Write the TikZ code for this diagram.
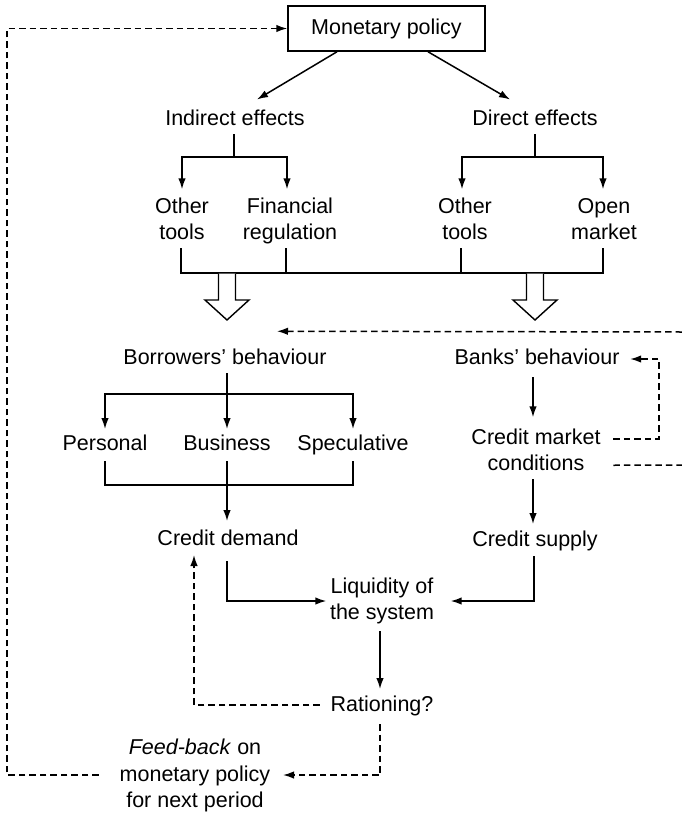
\documentclass[tikz,border=0pt]{standalone}
\usepackage{fontspec}
\setmainfont{Liberation Sans}
\usetikzlibrary{arrows.meta,calc}
\newcommand{\fs}{\fontsize{21.5pt}{26.5pt}\selectfont}
\begin{document}
\begin{tikzpicture}[x=1pt,y=-1pt, line width=1.5pt,
  txt/.style={inner sep=0pt, align=center, font=\fs},
  boxed/.style={draw, inner sep=0pt, minimum width=197pt, minimum height=45pt, font=\fs},
  arr/.style={-{Latex[length=11pt,width=7.5pt]}},
  dsh/.style={dash pattern=on 6.5pt off 4pt},
  hollow/.style={fill=white, line width=1.4pt, line join=miter}]
\useasboundingbox (0,0) rectangle (682,814);

% nodes
\node[boxed] (mp) at (386.5,28.5) {Monetary policy};
\node[txt] (ind) at (235,120) {\strut Indirect effects};
\node[txt] (dir) at (535,120) {\strut Direct effects};
\node[txt] (ot1) at (182,221) {\strut Other\\\strut tools};
\node[txt] (fr)  at (290,221) {\strut Financial\\\strut regulation};
\node[txt] (ot2) at (465,221) {\strut Other\\\strut tools};
\node[txt] (om)  at (604,221) {\strut Open\\\strut market};
\node[txt] (bb) at (225,359) {\strut Borrowers' behaviour};
\node[txt] (kb) at (537,359) {\strut Banks' behaviour};
\node[txt] (per) at (105,445) {\strut Personal};
\node[txt] (bus) at (227,445) {\strut Business};
\node[txt] (spe) at (353,445) {\strut Speculative};
\node[txt] (cmc) at (536,452) {\strut Credit market\\\strut conditions};
\node[txt] (cd) at (228,540) {\strut Credit demand};
\node[txt] (cs) at (535,541) {\strut Credit supply};
\node[txt] (liq) at (382,601) {\strut Liquidity of\\\strut the system};
\node[txt] (rat) at (382,706) {\strut Rationing?};
\node[txt] (fb) at (195,776) {\strut\textit{Feed-back} on\\\strut monetary policy\\\strut for next period};

% helper coordinates
\coordinate (j1) at (234,157);
\coordinate (j2) at (535,157);
\coordinate (hl) at (0,273);
\coordinate (j3) at (227,394);
\coordinate (hb) at (0,485);
\coordinate (lft) at (7,0);
\coordinate (rgt) at (659,0);
\coordinate (re1) at (682,332);
\coordinate (re2) at (682,465);

% monetary policy to effects
\draw[arr] ($(mp.south)+(-49.5,0)$) -- ($(ind.north)+(22,-6.5)$);
\draw[arr] ($(mp.south)+(41.5,0)$) -- ($(dir.north)+(-25,-6.5)$);

% indirect effects tree
\draw (ind.south -| j1) -- (j1);
\draw[arr] (j1) -| ($(ot1.north)+(0,-4.5)$);
\draw[arr] (j1) -| ($(fr.north)+(-3,-4.5)$);
% direct effects tree
\draw (dir.south) -- (j2);
\draw[arr] (j2) -| ($(ot2.north)+(-3,-4.5)$);
\draw[arr] (j2) -| ($(om.north)+(-1,-4.5)$);

% bottom bracket
\draw ($(ot1.south)+(-1,0)$) -- ($(ot1.south |- hl)+(-1,0)$) -- ($(om.south |- hl)+(-1,0)$) -- ($(om.south)+(-1,0)$);
\draw ($(fr.south)+(-4,0)$) -- ($(fr.south |- hl)+(-4,0)$);
\draw ($(ot2.south)+(-4,0)$) -- ($(ot2.south |- hl)+(-4,0)$);

% hollow arrows
\draw[hollow] (218.5,273.6) -- (218.5,300) -- (205,300) -- (227,320) -- (249,300) -- (235.5,300) -- (235.5,273.6);
\draw[hollow] (526.5,273.6) -- (526.5,300) -- (513,300) -- (535,320) -- (557,300) -- (543.5,300) -- (543.5,273.6);

% dashed arrow from the right
\draw[dsh,arr] (re1) -- ($(bb.north)+(52,-13.75)$);

% borrowers tree
\draw[arr] (bb.south -| bus.north) -- ($(bus.north)+(0,-2)$);
\draw[arr] (j3) -| ($(per.north)+(0,-2)$);
\draw[arr] (j3) -| ($(spe.north)+(0,-2)$);
\draw ($(per.south)+(0,2)$) -- (per.south |- hb) -- (spe.south |- hb) -- ($(spe.south)+(0,2)$);
\draw[arr] ($(bus.south)+(0,2)$) -- ($(cd.north)+(-1,-5)$);

% banks chain
\draw[arr] ($(kb.south)+(-4,4)$) -- ($(kb.south |- cmc.north)+(-4,-7.5)$);
\draw[arr] ($(cmc.south)+(-3,0)$) -- ($(cs.north)+(-2,-3)$);
\draw[dsh,arr] ($(cmc.east)+(12,-13.25)$) -| (rgt |- kb.east) -- ($(kb.east)+(10,0)$);
\draw[dsh] ($(cmc.east)+(12,13.25)$) -- (re2);

% to liquidity
\draw[arr] ($(cd.south)+(-1,7)$) |- ($(liq.west)+(-3,0)$);
\draw[arr] ($(cs.south)+(-1,1)$) |- ($(liq.east)+(16,0)$);
\draw[arr] ($(liq.south)+(-2,3)$) -- ($(rat.north)+(-2,-3)$);

% rationing feedback
\draw[dsh,arr] ($(rat.west)+(-10,-1)$) -| ($(cd.south)+(-34,1)$);
\draw[dsh,arr] ($(rat.south)+(-2,4)$) |- ($(fb.east)+(12,-1)$);
\draw[dsh,arr] ($(fb.west)+(-20,-1)$) -| (lft |- mp.west) -- (mp.west);
\end{tikzpicture}
\end{document}
